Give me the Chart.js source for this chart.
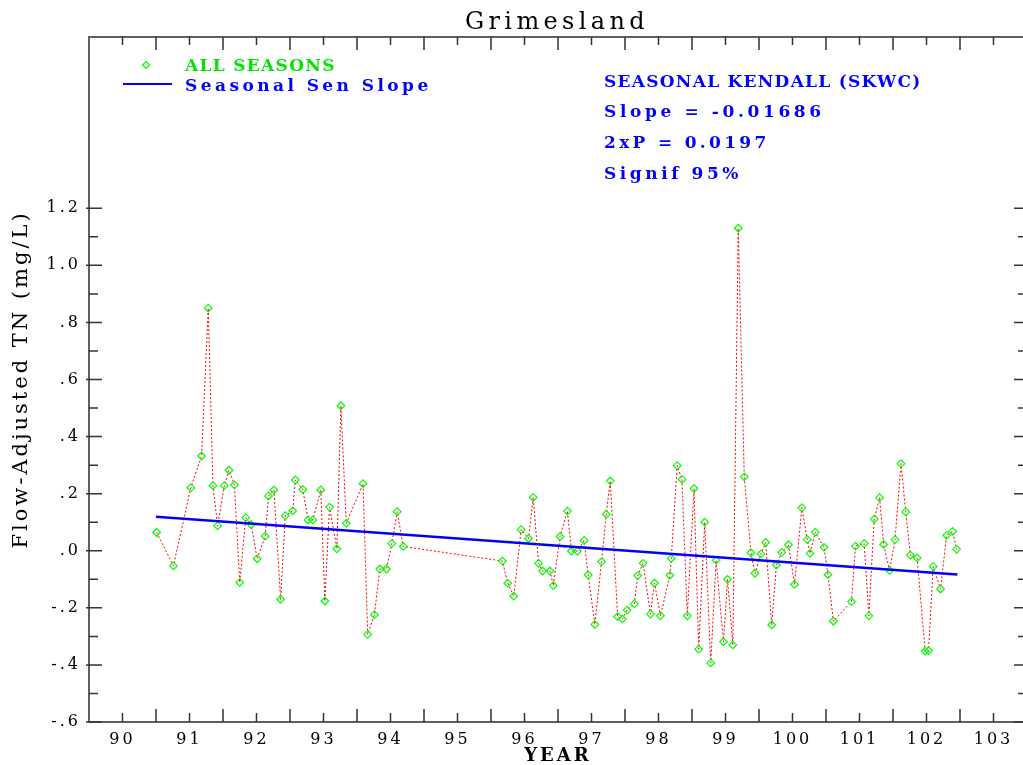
<!DOCTYPE html>
<html lang="en">
<head>
<meta charset="UTF-8">
<title>Grimesland</title>
<script src="https://cdn.jsdelivr.net/npm/chart.js"></script>
<style>
  html, body { margin: 0; padding: 0; overflow: hidden; background: #fff; }
  #tnChart { display: block; }
</style>
</head>
<body>
<canvas id="tnChart" width="1040" height="765"></canvas>
<script>
// sample dates (decimal years, 19xx) and flow-adjusted TN residuals
const sampleYear = [
  90.51, 90.76, 91.02, 91.18, 91.28, 91.35, 91.42, 91.52, 91.59, 91.67,
  91.75, 91.84, 91.92, 92.01, 92.13, 92.18, 92.26, 92.36, 92.43, 92.54,
  92.58, 92.69, 92.77, 92.84, 92.96, 93.02, 93.09, 93.20, 93.26, 93.34,
  93.59, 93.66, 93.76, 93.84, 93.94, 94.02, 94.10, 94.19,
  95.67, 95.75, 95.84, 95.95, 96.06, 96.13, 96.21, 96.27, 96.38, 96.43,
  96.53, 96.64, 96.70, 96.79, 96.89, 96.95, 97.05, 97.15, 97.22, 97.28,
  97.39, 97.46, 97.53, 97.64, 97.69, 97.77, 97.88, 97.94, 98.03, 98.17,
  98.19, 98.28, 98.35, 98.43, 98.53, 98.60, 98.69, 98.78, 98.86, 98.97,
  99.03, 99.11, 99.19, 99.28, 99.38, 99.44, 99.53, 99.60, 99.69, 99.76,
  99.84, 99.94, 100.03, 100.14, 100.22, 100.26, 100.34, 100.47, 100.53, 100.61,
  100.88, 100.94, 101.07, 101.14, 101.22, 101.30, 101.36, 101.45, 101.53, 101.62,
  101.69, 101.76, 101.86, 101.98, 102.03, 102.10, 102.21, 102.30, 102.39, 102.45
];
const flowAdjTN = [
  0.064, -0.053, 0.221, 0.332, 0.850, 0.228, 0.087, 0.228, 0.282, 0.231,
  -0.111, 0.116, 0.092, -0.028, 0.051, 0.192, 0.213, -0.170, 0.123, 0.140,
  0.248, 0.215, 0.108, 0.108, 0.213, -0.176, 0.153, 0.007, 0.508, 0.096,
  0.235, -0.293, -0.224, -0.064, -0.064, 0.025, 0.137, 0.015,
  -0.036, -0.114, -0.159, 0.074, 0.043, 0.187, -0.044, -0.071, -0.071, -0.122,
  0.050, 0.139, -0.001, -0.001, 0.036, -0.085, -0.258, -0.038, 0.128, 0.245,
  -0.231, -0.239, -0.208, -0.186, -0.087, -0.044, -0.222, -0.113, -0.228, -0.086,
  -0.027, 0.298, 0.250, -0.228, 0.218, -0.345, 0.100, -0.393, -0.033, -0.319,
  -0.100, -0.330, 1.130, 0.259, -0.007, -0.079, -0.011, 0.029, -0.260, -0.050,
  -0.006, 0.021, -0.118, 0.151, 0.039, -0.009, 0.065, 0.012, -0.084, -0.247,
  -0.178, 0.016, 0.025, -0.228, 0.111, 0.186, 0.022, -0.069, 0.039, 0.305,
  0.136, -0.015, -0.025, -0.352, -0.350, -0.055, -0.134, 0.054, 0.068, 0.005
];

// seasonal Sen slope line end points
const senYear = [90.5, 102.46];
const senValue = [0.119, -0.083];

const xTickYears = [90, 91, 92, 93, 94, 95, 96, 97, 98, 99, 100, 101, 102, 103];
const yTickValues = [-0.6, -0.4, -0.2, 0, 0.2, 0.4, 0.6, 0.8, 1.0, 1.2];
const yTickLabels = ['-.6', '-.4', '-.2', '.0', '.2', '.4', '.6', '.8', '1.0', '1.2'];

const statLines = ['SEASONAL KENDALL (SKWC)', 'Slope = -0.01686', '2xP = 0.0197', 'Signif 95%'];

const SERIF = '"DejaVu Serif", "Liberation Serif", serif';

function toPoints(xs, ys) {
  return xs.map((v, i) => ({ x: v, y: ys[i] }));
}

function diamond(ctx, cx, cy, r) {
  ctx.beginPath();
  ctx.moveTo(cx, cy - r);
  ctx.lineTo(cx + r, cy);
  ctx.lineTo(cx, cy + r);
  ctx.lineTo(cx - r, cy);
  ctx.closePath();
  ctx.stroke();
}

// plotter text is fixed pitch; spread proportional glyphs to the same length
function fitText(ctx, text, x, y, adv, align) {
  ctx.letterSpacing = '0px';
  const w = ctx.measureText(text).width;
  const sp = Math.max(0, (text.length * adv - w) / text.length);
  ctx.letterSpacing = sp.toFixed(2) + 'px';
  ctx.textAlign = 'left';
  const x0 = align === 'center' ? x - text.length * adv / 2 : x;
  ctx.fillText(text, x0, y);
}

// frame with inward ticks, title, legend and test results
const framePlugin = {
  id: 'frame',
  beforeLayout(chart) { chart.ctx.letterSpacing = '3px'; },
  beforeDraw(chart) { chart.ctx.letterSpacing = '3px'; },
  afterDraw(chart) {
    const { ctx, chartArea: a, scales: { x, y } } = chart;
    ctx.save();
    ctx.strokeStyle = '#606060';
    ctx.lineWidth = 2;
    ctx.strokeRect(a.left, a.top, a.right - a.left, a.bottom - a.top);

    ctx.strokeStyle = '#333';
    ctx.lineWidth = 1.5;
    ctx.beginPath();
    xTickYears.forEach(v => {
      const px = x.getPixelForValue(v);
      ctx.moveTo(px, a.bottom); ctx.lineTo(px, a.bottom - 9);
      ctx.moveTo(px, a.top); ctx.lineTo(px, a.top + 8);
      const pm = x.getPixelForValue(v + 0.5);
      ctx.moveTo(pm, a.bottom); ctx.lineTo(pm, a.bottom - 13);
      ctx.moveTo(pm, a.top); ctx.lineTo(pm, a.top + 13);
    });
    yTickValues.forEach((v, i) => {
      const py = y.getPixelForValue(v);
      ctx.moveTo(a.left - 3, py); ctx.lineTo(a.left + 13, py);
      ctx.moveTo(a.right, py); ctx.lineTo(a.right - 13, py);
      if (i < yTickValues.length - 1) {
        const pn = y.getPixelForValue((v + yTickValues[i + 1]) / 2);
        ctx.moveTo(a.left, pn); ctx.lineTo(a.left + 9, pn);
        ctx.moveTo(a.right, pn); ctx.lineTo(a.right - 9, pn);
      }
    });
    ctx.stroke();

    ctx.textBaseline = 'alphabetic';

    // title
    ctx.fillStyle = '#000';
    ctx.font = '24px ' + SERIF;
    fitText(ctx, 'Grimesland', 557, 29, 18.4, 'center');

    // legend
    ctx.font = 'bold 17px ' + SERIF;
    ctx.strokeStyle = '#00ff00';
    ctx.lineWidth = 1.2;
    diamond(ctx, 146, 65, 3.5);
    ctx.fillStyle = '#00e600';
    fitText(ctx, 'ALL SEASONS', 185, 71, 13.7);
    ctx.strokeStyle = '#0000ff';
    ctx.lineWidth = 2;
    ctx.beginPath();
    ctx.moveTo(123, 84); ctx.lineTo(172, 84);
    ctx.stroke();
    ctx.fillStyle = '#0000ff';
    fitText(ctx, 'Seasonal Sen Slope', 185, 91, 13.7);

    // seasonal Kendall results
    const base = [87, 117, 148, 179];
    statLines.forEach((t, i) => fitText(ctx, t, 604, base[i], 13.8));
    ctx.restore();
  }
};

new Chart(document.getElementById('tnChart'), {
  type: 'line',
  data: {
    datasets: [
      {
        label: 'Seasonal Sen Slope',
        data: toPoints(senYear, senValue),
        borderColor: '#0000ff',
        borderWidth: 2.5,
        pointRadius: 0,
        order: 0
      },
      {
        label: 'ALL SEASONS',
        data: toPoints(sampleYear, flowAdjTN),
        borderColor: '#ff0000',
        borderWidth: 1,
        borderDash: [2, 2],
        pointStyle: 'rectRot',
        pointRadius: 3.8,
        pointBorderColor: '#00ff00',
        pointBackgroundColor: 'rgba(0,0,0,0)',
        pointBorderWidth: 1.2,
        order: 1
      }
    ]
  },
  options: {
    responsive: false,
    animation: false,
    devicePixelRatio: 1,
    layout: { padding: { top: 37, right: 13, left: 0, bottom: 0 } },
    plugins: {
      legend: { display: false },
      tooltip: { enabled: false },
      title: { display: false }
    },
    scales: {
      x: {
        type: 'linear',
        min: 89.5,
        max: 103.5,
        afterFit(s) { s.height = 43; },
        afterBuildTicks(s) { s.ticks = xTickYears.map(v => ({ value: v })); },
        grid: { display: false, drawTicks: false },
        border: { display: false },
        ticks: {
          autoSkip: false,
          maxRotation: 0,
          padding: 8,
          color: '#000',
          font: { family: SERIF, size: 16 },
          callback: v => String(v)
        },
        title: {
          display: true,
          text: 'YEAR',
          color: '#000',
          font: { family: SERIF, size: 18, weight: 'bold' },
          padding: { top: 0, bottom: -2 }
        }
      },
      y: {
        min: -0.6,
        max: 1.8,
        afterFit(s) { s.width = 89; },
        afterBuildTicks(s) { s.ticks = yTickValues.map(v => ({ value: v })); },
        grid: { display: false, drawTicks: false },
        border: { display: false },
        ticks: {
          autoSkip: false,
          padding: 8,
          color: '#000',
          font: { family: SERIF, size: 16 },
          callback: (v, i) => yTickLabels[i]
        },
        title: {
          display: true,
          text: 'Flow-Adjusted TN (mg/L)',
          color: '#000',
          font: { family: SERIF, size: 21 },
          padding: { top: 9, bottom: 0 }
        }
      }
    }
  },
  plugins: [framePlugin]
});
</script>
</body>
</html>
